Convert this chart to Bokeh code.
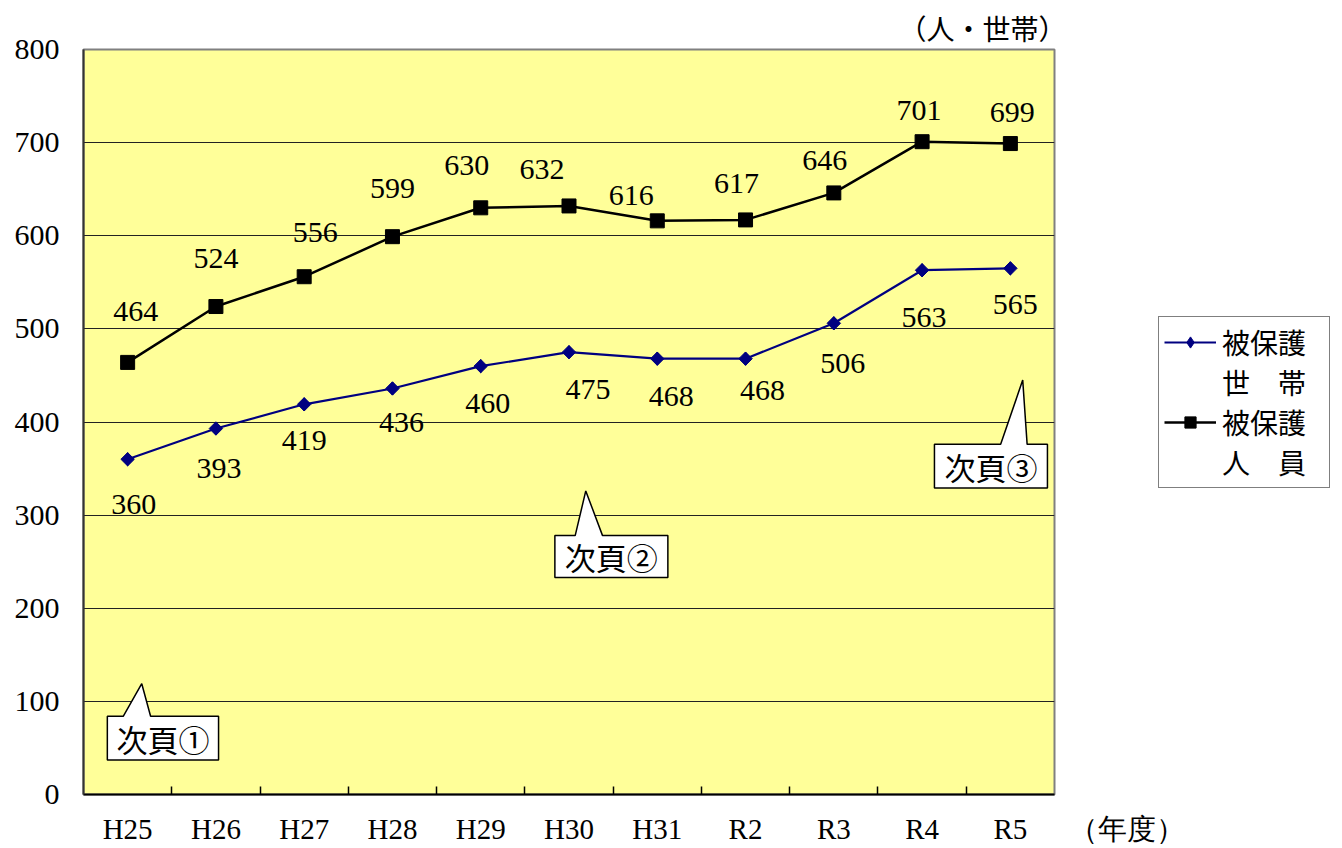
import math
from bokeh.plotting import figure
from bokeh.models import Range1d, FixedTicker, Legend, LegendItem, Title, ColumnDataSource
from bokeh.embed import file_html
from bokeh.resources import INLINE
from bokeh.core.properties import value

# ---- data ----
years = ["H25", "H26", "H27", "H28", "H29", "H30", "H31", "R2", "R3", "R4", "R5"]
households = [360, 393, 419, 436, 460, 475, 468, 468, 506, 563, 565]
persons = [464, 524, 556, 599, 630, 632, 616, 617, 646, 701, 699]
y_ticks = [0, 100, 200, 300, 400, 500, 600, 700, 800]
x_unit_label = "（年度）"
y_unit_label = "（人・世帯）"

# label placement (screen px) for the value labels
hh_dx = [6, 3, 0, 9, 7, 19, 14, 17, 9, 2, 5]
hh_dy = [45, 40, 36, 34, 37, 37, 38, 32, 40, 47, 36]
ps_dx = [8, 0, 11, 0, -14, -27, -26, -9, -9, -3, 2]
ps_dy = [-51, -48, -44, -48, -42, -36, -25, -36, -32, -31, -31]

# callouts: (left, right, bottom, top, base_l, base_r, apex_x, apex_y, text)
callouts = [
    (0.27, 1.53, 37, 84, 0.45, 0.76, 0.66, 119, "次頁①"),
    (5.34, 6.62, 233, 278, 5.57, 5.88, 5.69, 326, "次頁②"),
    (9.64, 10.92, 329, 376, 10.39, 10.69, 10.64, 445, "次頁③"),
]

SERIF = "Liberation Serif"
CJK = "Noto Sans CJK JP"
NAVY = "#000080"

n = len(years)
xs = [i + 0.5 for i in range(n)]

p = figure(frame_width=971, frame_height=745,
           min_border_left=83, min_border_right=288, min_border_top=49, min_border_bottom=46,
           x_range=Range1d(0, n), y_range=Range1d(0, 800),
           output_backend="svg", toolbar_location=None)

p.background_fill_color = "#FFFF99"
p.border_fill_color = "white"
p.outline_line_color = "#808080"
p.outline_line_width = 2

# x axis (category labels at centres, tick marks at boundaries, unit label at the end)
overrides = {x: y for x, y in zip(xs, years)}
overrides[float(n)] = "\u3000" * 5 + x_unit_label
p.xaxis.ticker = FixedTicker(ticks=xs + [float(n)], minor_ticks=list(range(1, n)))
p.xaxis.major_label_overrides = overrides
p.xaxis.major_tick_in = 0
p.xaxis.major_tick_out = 0
p.xaxis.minor_tick_in = 8
p.xaxis.minor_tick_out = 0
p.xaxis.minor_tick_line_color = "black"
p.xaxis.minor_tick_line_width = 1.5
p.xaxis.axis_line_color = "black"
p.xaxis.axis_line_width = 2
p.xaxis.major_label_text_font = SERIF
p.xaxis.major_label_text_font_size = "29px"
p.xaxis.major_label_text_color = "black"
p.xaxis.major_label_standoff = 18

# y axis
p.yaxis.ticker = FixedTicker(ticks=y_ticks)
p.yaxis.major_tick_in = 0
p.yaxis.major_tick_out = 0
p.yaxis.minor_tick_line_color = None
p.yaxis.axis_line_color = "#333333"
p.yaxis.axis_line_width = 2
p.yaxis.major_label_text_font = SERIF
p.yaxis.major_label_text_font_size = "30px"
p.yaxis.major_label_text_color = "black"
p.yaxis.major_label_standoff = 24

p.xgrid.grid_line_color = None
p.ygrid.ticker = FixedTicker(ticks=y_ticks)
p.ygrid.grid_line_color = "#222222"
p.ygrid.grid_line_width = 1

# unit label for values, above the frame at the right
p.add_layout(Title(text=y_unit_label, align="right", text_font=CJK, text_font_size="28px",
                   text_font_style="normal", text_color="black", standoff=4, offset=-12), "above")

src = ColumnDataSource(dict(x=xs, hh=households, ps=persons,
                            hh_t=[str(v) for v in households], ps_t=[str(v) for v in persons],
                            hh_dx=hh_dx, hh_dy=hh_dy, ps_dx=ps_dx, ps_dy=ps_dy))

r_hh_l = p.line("x", "hh", source=src, line_color=NAVY, line_width=2.2)
# diamond markers (used by the legend) with a rotated square on top for a squarer shape
r_hh_d = p.scatter("x", "hh", source=src, marker="diamond", size=13,
                   fill_color=NAVY, line_color=NAVY)
r_hh_m = p.scatter("x", "hh", source=src, marker="square", size=9.5, angle=math.pi / 4,
                   fill_color=NAVY, line_color=NAVY)
r_ps_l = p.line("x", "ps", source=src, line_color="black", line_width=2.5)
r_ps_m = p.scatter("x", "ps", source=src, marker="square", size=14, fill_color="black", line_color="black")

p.text("x", "hh", text="hh_t", source=src, x_offset="hh_dx", y_offset="hh_dy",
       text_font=value(SERIF), text_font_size="30px", text_align="center",
       text_baseline="middle", text_color="black")
p.text("x", "ps", text="ps_t", source=src, x_offset="ps_dx", y_offset="ps_dy",
       text_font=value(SERIF), text_font_size="30px", text_align="center",
       text_baseline="middle", text_color="black")

# callouts
for (L, R, B, T, bl, br, ax, ay, txt) in callouts:
    p.patch([L, R, R, br, ax, bl, L], [B, B, T, T, ay, T, T],
            fill_color="white", line_color="black", line_width=1.5)
    p.text([(L + R) / 2], [(B + T) / 2], text=[txt], text_font=value(CJK),
           text_font_size="31px", text_align="center", text_baseline="middle",
           text_color="black")

# legend
dummy = p.line([], [], line_alpha=0)
legend = Legend(items=[
    LegendItem(label="被保護", renderers=[r_hh_l, r_hh_d]),
    LegendItem(label="世　帯", renderers=[dummy]),
    LegendItem(label="被保護", renderers=[r_ps_l, r_ps_m]),
    LegendItem(label="人　員", renderers=[dummy]),
], location=(104, 306))
legend.label_text_font = CJK
legend.label_text_font_size = "28px"
legend.label_text_color = "black"
legend.glyph_width = 52
legend.glyph_height = 28
legend.label_height = 28
legend.label_width = 102
legend.label_standoff = 6
legend.spacing = 0
legend.padding = 5
legend.margin = 0
legend.border_line_color = "black"
legend.border_line_width = 1
legend.background_fill_color = "white"
legend.background_fill_alpha = 1
p.add_layout(legend, "right")

open("out.html", "w").write(file_html(p, INLINE))
